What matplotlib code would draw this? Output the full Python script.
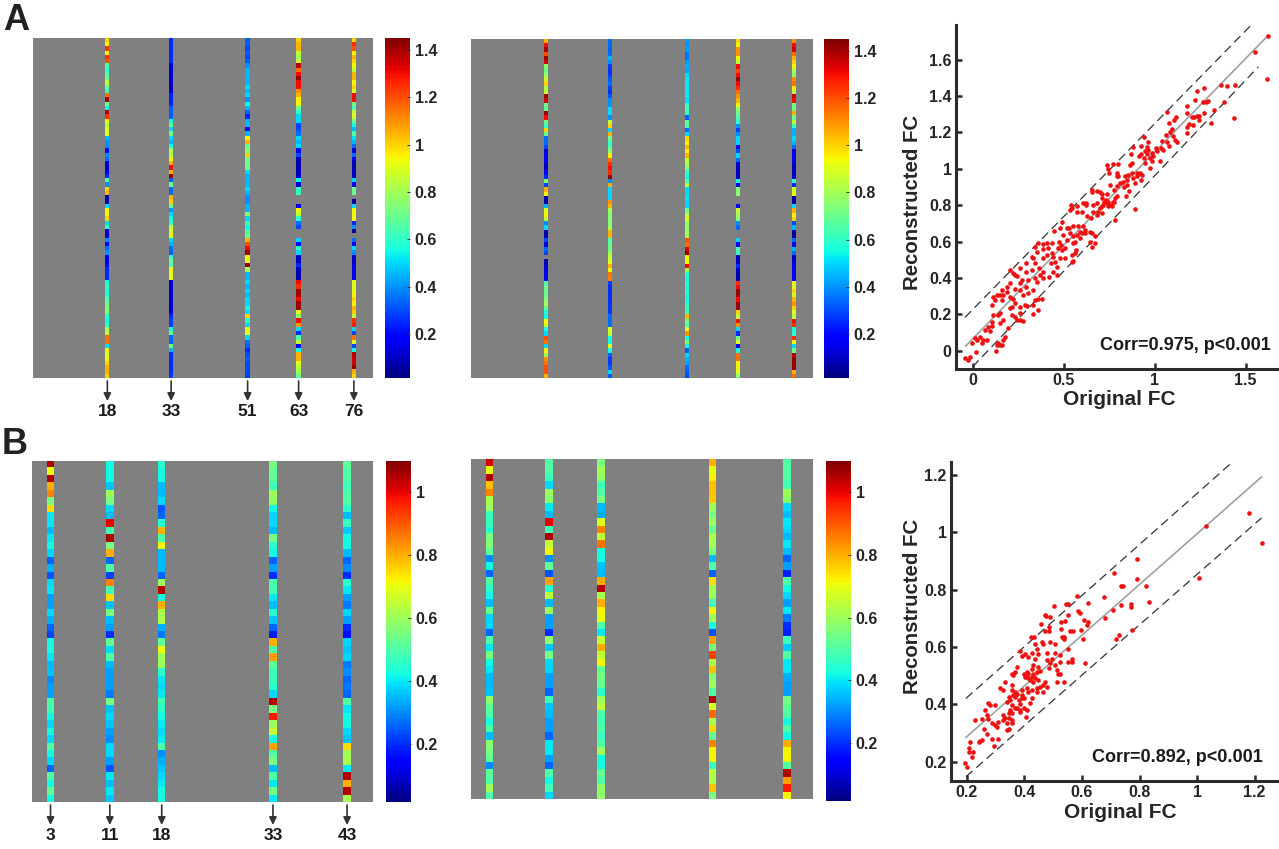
import matplotlib
matplotlib.use("Agg")
import matplotlib.pyplot as plt
import numpy as np
from matplotlib.ticker import FuncFormatter
from matplotlib.transforms import blended_transform_factory

nan = float("nan")

# ---------- panel A heat-map columns (80 x 80 matrices, 5 non-empty columns)
a_labels = [18, 33, 51, 63, 76]
a_left_18 = [1.0,.95,1.25,.95,1.25,1.2,.65,.6,.65,.7,
 .85,.7,.6,1.15,1.4,.7,.55,1.4,1.25,.95,
 .8,.9,.9,.45,.4,.4,.2,.4,.35,.1,
 .1,.2,.25,.65,.4,1.0,1.05,.08,.08,.5,
 .95,.95,1.0,.5,.6,.1,.1,.4,.2,.35,
 .4,.15,.15,.2,.25,.25,.25,.55,.6,.55,
 .6,.65,.7,.75,.75,.6,.55,.6,.8,.85,
 1.15,1.15,.5,.95,.9,.95,1.0,1.05,1.05,1.0]
a_left_33 = [.26,.25,.26,.25,.25,.26,.14,.12,.12,.12,
 .12,.08,.12,.24,.24,.25,.33,.33,.33,.55,
 .7,.5,.7,.5,.45,.55,.8,.8,.95,1.05,
 1.3,1.05,1.42,.33,.7,.35,.35,1.05,1.0,.7,
 .4,.5,.55,.6,.85,.9,.9,.5,.45,.35,
 .33,.6,.7,.65,.92,.92,.92,.12,.12,.12,
 .12,.12,.12,.12,.14,.25,.28,.28,.55,.7,
 .35,.33,.7,.45,.26,.26,.25,.25,.26,.28]
a_left_51 = [.33,.33,.3,.33,.3,.33,.4,.45,.45,.45,
 .45,.5,.45,.5,.4,.55,.45,.33,.25,.45,
 .45,.18,.45,.95,1.05,.7,.75,1.0,.7,.7,
 .7,.5,.45,.45,.45,.5,.45,.4,.4,.45,
 .45,.75,.5,.65,.55,.65,.7,1.05,1.2,1.3,
 1.4,.92,.9,1.42,.8,.45,.45,.5,.45,.5,
 .45,.5,.5,.55,.5,1.0,.6,.5,.95,.9,
 .5,.35,.33,.25,.3,.33,.3,.3,.3,.28]
a_left_63 = [1.0,1.05,1.05,.85,.8,.85,1.38,1.15,1.3,1.42,
 1.3,1.3,1.1,1.05,.95,.95,.7,.6,.5,.5,
 .3,.3,.35,.5,.45,.5,.15,.3,.08,.08,
 .08,.08,.1,.55,.12,.6,.6,nan,nan,.15,
 .95,.85,.6,.35,.3,nan,nan,.5,.2,.6,
 .5,.1,.1,.25,.1,.08,.08,1.3,1.25,1.42,
 1.4,1.3,1.42,1.42,.9,.75,1.3,1.1,.5,.25,
 .65,.85,.2,.55,1.05,1.05,.9,.85,.8,.7]
a_left_76 = [1.0,1.25,1.2,.95,1.05,1.0,.95,.85,1.05,1.05,
 .95,1.0,.9,1.3,1.3,.7,.65,.85,.9,.7,
 .55,.45,.65,.5,.45,.35,.12,.35,.15,.08,
 .08,.1,.1,.5,.2,.7,.7,nan,.06,.5,
 .95,.95,.95,.25,.4,.05,nan,.35,.15,.5,
 .4,.1,.1,.15,.15,.15,.15,.9,.92,.92,
 .95,1.0,.95,1.05,1.0,.85,1.25,1.28,.5,.3,
 1.15,.9,.3,.55,1.38,1.35,1.35,1.42,1.05,1.0]
a_right_18 = [1.05,1.3,1.4,1.2,1.4,1.35,.75,.7,.8,.85,
 1.0,.8,.85,1.4,1.35,.7,.7,1.42,1.3,.7,
 .6,1.0,.7,.35,.35,.3,.12,.2,.18,.1,
 .1,.2,.25,.75,.3,1.05,.95,.08,.08,.45,
 .9,.95,.85,.4,.5,.08,.08,.3,.12,.35,
 .3,nan,.08,.12,.15,.15,.15,.65,.7,.7,
 .7,.75,.8,.7,.55,.55,.95,.9,.55,.5,
 1.2,1.15,.5,.95,.8,1.1,1.15,1.2,1.2,1.05]
a_right_33 = [.35,.35,.33,.35,.45,.4,.28,.26,.28,.32,
 .35,.28,.26,.32,.4,.4,.5,.5,.4,.85,
 1.0,.5,1.05,.7,.6,.65,.75,.95,1.15,1.25,
 1.3,1.25,1.42,.4,1.05,.5,.5,.5,1.1,1.05,
 .8,.75,.75,.75,.8,1.05,1.05,.65,.7,.7,
 .8,.85,.9,1.05,.95,1.15,1.12,.27,.26,.26,
 .26,.26,.27,.27,.28,.35,.35,.35,.9,.85,
 .55,.55,.9,.55,.32,.28,.28,.32,.5,.32]
a_right_51 = [.42,.4,.42,.35,.35,.42,.45,.42,.5,.52,
 .52,.52,.52,.52,.5,.6,.65,.6,.32,.7,
 .65,.35,.5,1.0,.95,1.05,.95,1.05,.85,.8,
 .75,.6,.55,.65,.85,.5,.5,.52,.5,.5,
 .7,.85,.9,.75,.75,.8,.8,1.2,1.15,1.35,
 1.42,.95,.92,1.3,.8,.6,.55,.6,.55,.6,
 .55,.55,.6,.6,.65,1.05,.7,.65,.9,1.1,
 .55,.75,.55,.32,.5,.45,.42,.35,.33,.3]
a_right_63 = [1.0,.95,1.1,1.1,.95,.85,1.3,1.2,1.3,1.42,
 1.3,1.25,1.15,1.1,1.05,.95,.75,.7,.65,.6,
 .4,.3,.4,.5,.5,.2,.3,.5,.35,.12,
 .1,.1,.1,.55,.2,.75,.75,nan,nan,.2,
 .85,.8,.75,.4,.35,nan,nan,.5,.2,.65,
 .6,.1,.1,.25,.1,.08,.08,1.25,1.3,1.42,
 1.4,1.3,1.42,1.42,1.0,.85,1.3,1.1,.5,.25,
 .7,.9,.2,.55,1.15,1.15,.95,.95,.9,.75]
a_right_76 = [1.1,1.3,1.35,1.15,1.05,1.0,.95,.8,.75,1.1,
 1.15,.95,.85,1.35,1.3,.7,.7,1.05,.7,.85,
 .6,.45,.45,.5,.45,.35,.12,.2,.2,.12,
 .1,.1,.12,.6,.25,.9,.95,.05,.05,.5,
 1.05,.95,1.0,.3,.45,.05,.05,.35,.15,.45,
 .35,.1,.15,.15,.18,.18,.18,.95,.9,1.0,
 .9,1.05,1.1,1.0,.9,.85,1.3,1.25,.55,.6,
 1.25,.95,.5,.7,1.38,1.42,1.4,1.42,1.05,1.15]

# ---------- panel B heat-map columns (46 x 46 matrices)
b_labels = [3, 11, 18, 33, 43]
b_left_3 = [1.05,.7,1.05,.8,.85,.55,.75,.4,.4,.35,.4,.42,.38,.26,.34,.24,.38,.4,.32,.32,.38,.34,.26,.22,
 .42,.42,.4,.35,.36,.3,.32,.32,.5,.48,.42,.38,.42,.38,.5,.42,.38,.26,.5,.42,.52,.42]
b_left_11 = [.42,.42,.42,.36,.6,.55,.38,.35,1.0,.48,1.05,.55,.8,.26,.5,.22,.85,.48,.75,.36,.55,.35,.32,.2,
 .53,.38,.5,.35,.32,.32,.32,.28,.55,.36,.38,.36,.32,.3,.38,.38,.32,.24,.4,.35,.4,.36]
b_left_18 = [.45,.42,.42,.35,.35,.38,.24,.26,.45,.8,.5,.72,.35,.35,.35,.26,.6,1.05,.42,.8,.62,.62,.34,.28,
 .52,.7,.6,.6,.45,.4,.38,.4,.48,.45,.42,.4,.38,.4,.5,.3,.34,.36,.38,.4,.42,.42]
b_left_33 = [.55,.53,.52,.48,.6,.58,.42,.38,.38,.35,.55,.45,.42,.26,.32,.2,.5,.48,.4,.35,.45,.36,.26,.18,
 .8,.5,.82,.52,.48,.47,.45,.38,1.05,.55,.97,.6,.65,.42,.82,.5,.55,.35,.5,.4,.55,.4]
b_left_43 = [.52,.5,.5,.48,.5,.5,.45,.35,.47,.37,.42,.42,.35,.26,.3,.2,.45,.4,.32,.28,.38,.32,.2,.16,
 .38,.36,.38,.28,.3,.26,.28,.26,.5,.4,.42,.42,.38,.36,.75,.6,.62,.4,1.05,.8,1.05,.62]
b_right_3 = [1.02,.7,1.05,.78,.85,.62,.6,.47,.47,.45,.55,.57,.52,.3,.42,.26,.5,.45,.42,.35,.53,.38,.38,.26,
 .5,.4,.55,.42,.4,.35,.35,.36,.58,.52,.5,.42,.5,.35,.58,.55,.52,.3,.52,.5,.6,.5]
b_right_11 = [.5,.5,.47,.38,.6,.58,.4,.35,1.0,.48,1.05,.65,.72,.3,.52,.24,.82,.45,.65,.35,.6,.32,.32,.2,
 .58,.36,.55,.38,.38,.32,.32,.26,.48,.36,.35,.32,.32,.26,.4,.4,.32,.26,.5,.42,.48,.38]
b_right_18 = [.55,.6,.58,.48,.5,.55,.35,.34,.68,.85,.65,.87,.42,.42,.36,.35,.8,1.05,.62,.8,.72,.7,.5,.4,
 .65,.8,.65,.72,.52,.55,.52,.45,.6,.65,.5,.48,.5,.47,.5,.6,.42,.42,.52,.5,.58,.58]
b_right_33 = [.8,.7,.73,.78,.78,.77,.6,.55,.6,.52,.62,.6,.55,.35,.5,.26,.75,.6,.6,.48,.72,.6,.42,.24,
 .82,.55,.93,.62,.78,.57,.6,.5,1.05,.68,.88,.62,.75,.52,.85,.72,.72,.47,.63,.62,.78,.55]
b_right_43 = [.5,.5,.5,.48,.6,.58,.38,.35,.4,.38,.35,.4,.35,.26,.32,.18,.5,.42,.38,.32,.4,.28,.2,.18,
 .47,.37,.5,.4,.4,.34,.32,.32,.55,.52,.5,.42,.5,.42,.8,.72,.72,.5,1.05,.82,.97,.72]

# ---------- scatter data: (original FC, reconstructed FC)
a_pairs = [(1.623,1.732),(1.551,1.640),(1.619,1.494),(1.441,1.461),(1.399,1.455),(1.363,1.459),(1.438,1.279),
 (1.379,1.367),(1.326,1.321),(1.291,1.371),(1.282,1.367),(1.264,1.367),(1.271,1.306),(1.310,1.251),(1.269,1.444),
 (1.231,1.428),(1.223,1.376),(1.176,1.343),(1.178,1.306),(1.242,1.292),(1.231,1.288),(1.216,1.284),(1.205,1.284),
 (1.242,1.266),(1.212,1.242),(1.190,1.246),(1.179,1.229),(1.179,1.196),(1.066,1.310),(1.119,1.284),(1.106,1.266),
 (1.081,1.251),(1.093,1.218),(1.084,1.202),(1.064,1.185),(1.099,1.182),(.940,1.174),(1.114,1.156),(1.121,1.149),
 (1.066,1.147),(1.038,1.150),(.965,1.145),(.883,1.119),(.923,1.127),(1.081,1.123),(.956,1.119),(1.033,1.114),
 (1.007,1.114),(1.048,1.105),(.965,1.105),(.947,1.095),(1.011,1.095),(.987,1.086),(.960,1.083),(.923,1.083),
 (.912,1.072),(.868,1.083),(.993,1.068),(.974,1.059),(.943,1.059),(.984,1.040),(1.027,1.044),(.945,1.031),
 (.875,1.031),(.740,1.022),(.769,1.028),(.799,1.028),(.745,.998),(.974,1.004),(.864,1.022),(.751,.976),(.791,.976),
 (.799,.961),(.791,.958),(.919,.976),(.901,.976),(.929,.967),(.874,.976),(.855,.967),(.839,.958),(.905,.958),
 (.883,.949),(.923,.939),(.892,.921),(.850,.939),(.828,.930),(.810,.921),(.846,.912),(.755,.912),(.791,.903),
 (.832,.899),(.778,.884),(.861,.879),(.654,.884),(.685,.879),(.700,.875),(.658,.870),(.709,.862),(.736,.862),
 (.791,.853),(.842,.851),(.782,.839),(.733,.829),(.711,.839),(.623,.811),(.722,.820),(.777,.820),(.745,.815),
 (.764,.793),(.663,.802),(.538,.802),(.571,.793),(.700,.784),(.709,.793),(.544,.784),(.745,.793),(.890,.778),
 (.736,.811),(.773,.820),(.758,.802),(.714,.802),(.690,.765),(.659,.760),(.626,.738),(.709,.756),(.681,.747),
 (.652,.728),(.782,.719),(.571,.765),(.599,.765),(.535,.774),(.608,.811),(.623,.802),(.681,.811),(.493,.705),
 (.516,.673),(.480,.673),(.531,.673),(.553,.683),(.581,.686),(.608,.683),(.617,.664),(.590,.655),(.645,.655),
 (.599,.646),(.571,.637),(.553,.628),(.535,.646),(.654,.646),(.617,.646),(.562,.600),(.590,.618),(.553,.591),
 (.672,.628),(.645,.600),(.672,.591),(.654,.572),(.449,.659),(.498,.637),(.516,.609),(.476,.600),(.487,.581),
 (.507,.563),(.566,.554),(.560,.536),(.544,.527),(.507,.508),(.480,.508),(.553,.495),(.544,.490),(.434,.594),
 (.407,.591),(.385,.587),(.361,.591),(.342,.572),(.352,.545),(.324,.517),(.388,.558),(.416,.563),(.434,.536),
 (.471,.563),(.489,.554),(.443,.517),(.407,.527),(.388,.508),(.453,.490),(.429,.481),(.462,.462),(.444,.435),
 (.462,.416),(.422,.407),(.291,.484),(.334,.508),(.342,.481),(.366,.453),(.388,.435),(.324,.444),(.260,.453),
 (.223,.426),(.205,.444),(.233,.416),(.293,.435),(.342,.398),(.370,.416),(.269,.389),(.245,.411),(.260,.371),
 (.306,.389),(.352,.380),(.385,.398),(.205,.374),(.233,.338),(.260,.334),(.293,.349),(.306,.316),(.333,.334),
 (.278,.306),(.187,.352),(.187,.325),(.159,.334),(.169,.306),(.132,.306),(.114,.297),(.123,.279),(.104,.253),
 (.150,.306),(.159,.279),(.205,.297),(.223,.283),(.233,.261),(.214,.242),(.205,.233),(.288,.251),(.260,.242),
 (.297,.246),(.361,.283),(.379,.286),(.342,.279),(.333,.251),(.361,.224),(.333,.202),(.214,.196),(.233,.187),
 (.260,.206),(.260,.169),(.278,.165),(.150,.206),(.169,.169),(.141,.196),(.150,.150),(.114,.196),(.104,.160),
 (.196,.123),(.242,.169),(.068,.114),(.086,.132),(.104,.136),(.095,.110),(.040,.077),(.059,.059),(.077,.059),
 (.049,.040),(-.005,.044),(.013,.068),(.026,.059),(.178,.077),(.169,.059),(.141,.040),(.150,.031),(.132,.031),
 (.128,-.002),(.159,.031),(.018,-.007),(-.042,-.042),(-.024,-.051),(-.015,-.037)]
b_pairs = [(1.224,.965),(1.180,1.069),(1.031,1.024),(1.006,.840),(.791,.906),(.791,.836),(.712,.857),(.735,.813),
 (.744,.813),(.822,.812),(.832,.757),(.678,.774),(.583,.777),(.504,.742),(.543,.751),(.550,.749),(.473,.712),
 (.474,.708),(.489,.705),(.550,.712),(.587,.727),(.592,.719),(.622,.755),(.707,.729),(.736,.747),(.769,.751),
 (.772,.741),(.679,.701),(.458,.679),(.528,.687),(.541,.690),(.606,.693),(.622,.688),(.616,.678),(.484,.669),
 (.470,.658),(.526,.662),(.557,.658),(.598,.659),(.422,.634),(.536,.636),(.531,.634),(.536,.630),(.727,.641),
 (.718,.630),(.775,.659),(.605,.627),(.434,.636),(.484,.656),(.570,.656),(.460,.619),(.437,.610),(.466,.610),
 (.489,.619),(.507,.610),(.385,.586),(.403,.576),(.391,.569),(.426,.578),(.445,.592),(.449,.576),(.414,.566),
 (.437,.560),(.478,.578),(.495,.560),(.507,.578),(.524,.572),(.553,.595),(.565,.560),(.565,.549),(.553,.549),
 (.611,.545),(.478,.555),(.489,.543),(.507,.537),(.524,.549),(.484,.526),(.512,.520),(.518,.508),(.524,.508),
 (.536,.479),(.512,.479),(.431,.537),(.449,.531),(.426,.522),(.408,.514),(.374,.531),(.368,.514),(.356,.508),
 (.362,.502),(.397,.508),(.414,.508),(.431,.508),(.443,.514),(.455,.517),(.403,.497),(.414,.494),(.426,.497),
 (.437,.491),(.420,.485),(.431,.479),(.449,.485),(.472,.479),(.466,.467),(.455,.462),(.478,.462),(.466,.445),
 (.443,.459),(.333,.479),(.316,.456),(.327,.450),(.356,.467),(.356,.450),(.368,.444),(.391,.450),(.408,.456),
 (.426,.452),(.414,.444),(.443,.444),(.391,.433),(.397,.421),(.374,.438),(.362,.433),(.345,.427),(.351,.415),
 (.368,.427),(.380,.415),(.391,.421),(.426,.421),(.420,.406),(.385,.403),(.356,.398),(.339,.409),(.368,.386),
 (.374,.386),(.385,.380),(.397,.386),(.408,.380),(.351,.380),(.345,.369),(.356,.369),(.385,.374),(.406,.357),
 (.327,.363),(.333,.352),(.345,.352),(.356,.345),(.327,.345),(.339,.334),(.356,.334),(.347,.313),(.272,.406),
 (.281,.398),(.298,.398),(.264,.380),(.269,.363),(.272,.351),(.229,.345),(.252,.348),(.287,.334),(.298,.328),
 (.310,.340),(.304,.322),(.339,.310),(.258,.316),(.269,.297),(.287,.281),(.310,.281),(.295,.256),(.241,.270),
 (.246,.273),(.252,.276),(.212,.270),(.206,.247),(.206,.235),(.223,.235),(.217,.215),(.194,.197),(.200,.183)]

a_fit_x = [-.038, 1.623]
a_fit_y = [.026, 1.732]
a_upper_x = [-.042, 1.524]
a_upper_y = [.183, 1.783]
a_lower_x = [0.0, 1.57]
a_lower_y = [-.088, 1.56]
b_fit_x = [.197, 1.224]
b_fit_y = [.285, 1.194]
b_upper_x = [.197, 1.114]
b_upper_y = [.421, 1.238]
b_lower_x = [.197, 1.224]
b_lower_y = [.148, 1.051]

W, H = 1279, 849
FONT = "Liberation Sans"
INK = "#262626"
plt.rcParams["font.family"] = [FONT, "DejaVu Sans"]
plt.rcParams["font.weight"] = "bold"
fig = plt.figure(figsize=(W / 100, H / 100), dpi=100, facecolor="white")


def px_axes(x0, y0, x1, y1):
    return fig.add_axes([x0 / W, 1 - y1 / H, (x1 - x0) / W, (y1 - y0) / H])


def heat(box, cbox, n, labels, cols, vmax, ticks, arrows=True, arrow_len=(3, 23), lab_y=33):
    ax = px_axes(*box)
    mat = np.full((n, n), nan)
    for lab, col in zip(labels, cols):
        mat[:, lab - 1] = col
    cmap = plt.get_cmap("jet").copy()
    cmap.set_bad("#808080")
    im = ax.imshow(mat, cmap=cmap, vmin=0.014, vmax=vmax, aspect="auto",
                   interpolation="nearest", extent=(0.5, n + 0.5, n + 0.5, 0.5))
    ax.set_xticks([])
    ax.set_yticks([])
    for s in ax.spines.values():
        s.set_visible(False)
    cax = px_axes(*cbox)
    cb = fig.colorbar(im, cax=cax, ticks=ticks)
    cb.outline.set_visible(False)
    cb.ax.yaxis.set_major_formatter(FuncFormatter(lambda v, _: f"{v:g}"))
    cb.ax.tick_params(direction="in", length=2.5, width=0.7, color="#333333", pad=3.5,
                      labelsize=11.5, labelcolor=INK)
    if arrows:
        tr = blended_transform_factory(ax.transData, fig.transFigure)
        y_base = 1 - box[3] / H
        for lab in labels:
            ax.annotate("", xy=(lab, y_base - arrow_len[1] / H), xytext=(lab, y_base - arrow_len[0] / H),
                        xycoords=tr, textcoords=tr, annotation_clip=False,
                        arrowprops=dict(arrowstyle="-|>,head_width=0.22,head_length=0.45",
                                        color="#333333", lw=1.2, shrinkA=0, shrinkB=0))
            ax.text(lab, y_base - lab_y / H, str(lab), transform=tr, ha="center", va="center",
                    fontsize=12.5, color="#1a1a1a", clip_on=False)
    return ax


def scatter(box, pairs, fit, upper, lower, xlim, ylim, xt, yt, text, text_xy, xlabel_xy, ylabel_xy):
    ax = px_axes(*box)
    xs, ys = zip(*pairs)
    ax.plot(fit[0], fit[1], color="#a0a0a0", lw=1.2, zorder=1)
    ax.plot(upper[0], upper[1], color="#333333", lw=0.9, ls=(0, (7, 4)), zorder=1)
    ax.plot(lower[0], lower[1], color="#333333", lw=0.9, ls=(0, (7, 4)), zorder=1)
    ax.scatter(xs, ys, s=11, c="#ee1111", linewidths=0, zorder=2, clip_on=False)
    ax.set_xlim(*xlim)
    ax.set_ylim(*ylim)
    ax.set_xticks(xt)
    ax.set_yticks(yt)
    fmt = FuncFormatter(lambda v, _: f"{v:g}")
    ax.xaxis.set_major_formatter(fmt)
    ax.yaxis.set_major_formatter(fmt)
    ax.tick_params(direction="in", length=4, width=1.8, color="#2b2b2b", labelsize=11.5,
                   labelcolor=INK, pad=3)
    for s in ("top", "right"):
        ax.spines[s].set_visible(False)
    for s in ("left", "bottom"):
        ax.spines[s].set_linewidth(2.2)
        ax.spines[s].set_color("#2b2b2b")
    ax.set_xlabel("Original FC", fontsize=15, color=INK, fontweight="bold")
    ax.set_ylabel("Reconstructed FC", fontsize=14.7, color=INK, fontweight="bold")
    ax.xaxis.set_label_coords((xlabel_xy[0] - box[0]) / (box[2] - box[0]),
                              (box[3] - xlabel_xy[1]) / (box[3] - box[1]))
    ax.yaxis.set_label_coords((ylabel_xy[0] - box[0]) / (box[2] - box[0]),
                              (box[3] - ylabel_xy[1]) / (box[3] - box[1]))
    ax.xaxis.label.set_va("center")
    ax.yaxis.label.set_va("center")
    fig.text(text_xy[0] / W, 1 - text_xy[1] / H, text, ha="right", va="center",
             fontsize=13, color="#1a1a1a")
    return ax


heat((33, 38, 373, 378), (385, 38, 410, 378), 80, a_labels,
     [a_left_18, a_left_33, a_left_51, a_left_63, a_left_76], 1.45,
     [.2, .4, .6, .8, 1, 1.2, 1.4])
heat((471, 39, 812, 378), (824, 39, 849, 378), 80, a_labels,
     [a_right_18, a_right_33, a_right_51, a_right_63, a_right_76], 1.45,
     [.2, .4, .6, .8, 1, 1.2, 1.4], arrows=False)
heat((32, 461, 373, 802), (386, 461, 411, 802), 46, b_labels,
     [b_left_3, b_left_11, b_left_18, b_left_33, b_left_43], 1.10,
     [.2, .4, .6, .8, 1])
heat((471, 459, 812, 799), (826, 461, 851, 801), 46, b_labels,
     [b_right_3, b_right_11, b_right_18, b_right_33, b_right_43], 1.10,
     [.2, .4, .6, .8, 1], arrows=False)

scatter((955.7, 25, 1278, 369.3), a_pairs, (a_fit_x, a_fit_y), (a_upper_x, a_upper_y), (a_lower_x, a_lower_y),
        (-0.093, 1.678), (-0.102, 1.79), [0, .5, 1, 1.5], [0, .2, .4, .6, .8, 1, 1.2, 1.4, 1.6],
        "Corr=0.975, p<0.001", (1271, 345), (1119, 399), (912, 202))
scatter((950.7, 461.7, 1277.7, 780.7), b_pairs, (b_fit_x, b_fit_y), (b_upper_x, b_upper_y), (b_lower_x, b_lower_y),
        (0.144, 1.28), (0.134, 1.247), [.2, .4, .6, .8, 1, 1.2], [.2, .4, .6, .8, 1, 1.2],
        "Corr=0.892, p<0.001", (1263, 758), (1120, 812), (912, 606))

fig.text(3 / W, 1 - 20 / H, "A", fontsize=26, color="#222222", ha="left", va="center")
fig.text(2 / W, 1 - 444 / H, "B", fontsize=26, color="#222222", ha="left", va="center")

fig.savefig("out.png", dpi=100, facecolor="white")
